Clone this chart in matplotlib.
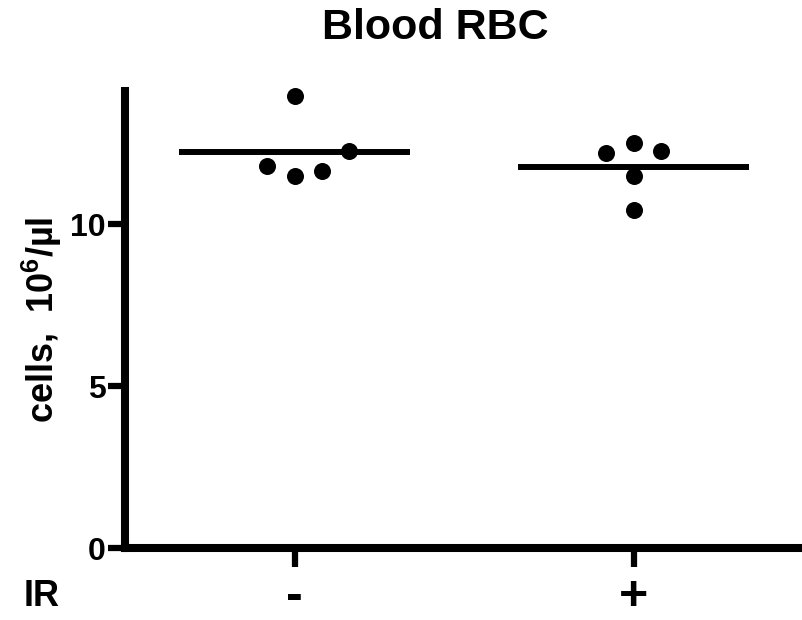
import matplotlib
matplotlib.use("Agg")
from matplotlib import pyplot as plt

# data
groups = ['-', '+']
group_pos = [0, 1]
rbc_minus = [13.94, 11.78, 11.49, 11.65, 12.26]
rbc_plus = [12.19, 12.50, 12.24, 11.49, 10.44]
offsets_minus = [0.0, -0.08, 0.0, 0.08, 0.16]
offsets_plus = [-0.08, 0.0, 0.08, 0.0, 0.0]
yticks = [0, 5, 10]

sans = ['Liberation Sans', 'DejaVu Sans']
plt.rcParams['font.family'] = sans
plt.rcParams['mathtext.default'] = 'regular'

fig = plt.figure(figsize=(8.03, 6.2), dpi=100, facecolor='white')
ax = fig.add_axes([0.1557, 0.116, 0.8443, 0.737])

for pos, vals, offs in [(group_pos[0], rbc_minus, offsets_minus),
                        (group_pos[1], rbc_plus, offsets_plus)]:
    ax.scatter([pos + o for o in offs], vals, s=150, color='black', zorder=3,
               linewidths=0, clip_on=False)
    mean = sum(vals) / len(vals)
    ax.hlines(mean, pos - 0.34, pos + 0.34, color='black', linewidth=4.3, zorder=2)

ax.set_xlim(-0.5, 1.5)
ax.set_ylim(0, 14.1)

for side in ['top', 'right']:
    ax.spines[side].set_visible(False)
for side in ['left', 'bottom']:
    ax.spines[side].set_linewidth(5.8)
    ax.spines[side].set_capstyle('projecting')

ax.set_yticks(yticks)
ax.set_yticklabels([str(v) for v in yticks], fontsize=23, fontweight='bold')
ax.set_xticks(group_pos)
ax.set_xticklabels(groups, fontsize=36, fontweight='bold')
ax.tick_params(axis='y', length=12, width=4.5, pad=2)
ax.tick_params(axis='x', length=14, width=4.5, pad=5)

ax.set_ylabel('cells,  10$^{6}$/µl', fontsize=26, fontweight='bold', labelpad=4)
fig.text(435 / 803, 1 - 28 / 620, 'Blood RBC', fontsize=31, fontweight='bold',
         ha='center', va='center')
fig.text(42 / 803, 1 - 597 / 620, 'IR', fontsize=26, fontweight='bold',
         ha='center', va='center')

fig.savefig('out.png', dpi=100)
